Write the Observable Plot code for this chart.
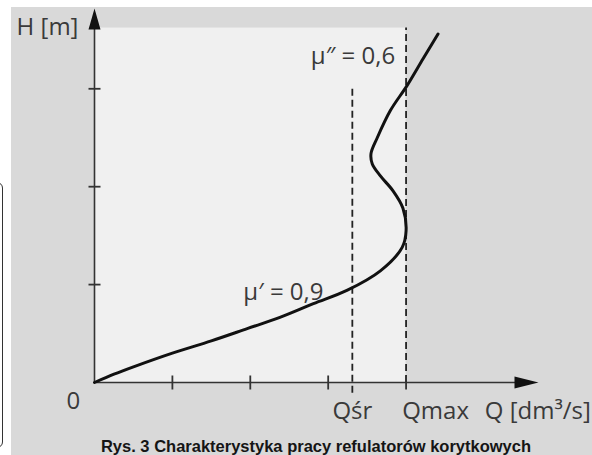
<!DOCTYPE html>
<html>
<head>
<meta charset="utf-8">
<script src="https://cdn.jsdelivr.net/npm/d3@7"></script>
<script src="https://cdn.jsdelivr.net/npm/@observablehq/plot@0.6"></script>
<style>
  html, body { margin: 0; padding: 0; background: #fff; }
  #page { position: relative; width: 592px; height: 455px; overflow: hidden; background: #fff; }
  #bg { position: absolute; left: 11px; top: 7px; width: 581px; height: 448px; background: #d9d9d9; }
  #box { position: absolute; left: -20px; top: 182px; width: 21px; height: 264px; border: 1.5px solid #333; border-radius: 6px; }
  #chart { position: absolute; left: 0; top: 0; }
  #caption { position: absolute; left: 0; top: 437px; width: 632px; text-align: center; line-height: 20px;
    font: bold 16.5px "Liberation Sans", Arial, sans-serif; color: #151515; }
</style>
</head>
<body>
<div id="page">
  <div id="bg"></div>
  <div id="box"></div>
  <div id="chart"></div>
  <div id="caption">Rys. 3 Charakterystyka pracy refulatorów korytkowych</div>
</div>
<script>
// Characteristic curve Q(H)
const curveQ = [0, 0.25, 0.5, 1.0, 1.5, 1.96, 2.38, 2.81, 3.24, 3.67, 3.95, 4.0, 3.96, 3.83, 3.67, 3.565, 3.55, 3.63, 3.80, 4.01, 4.22, 4.41];
const curveH = [0, 0.085, 0.16, 0.30, 0.425, 0.55, 0.665, 0.805, 0.94, 1.14, 1.38, 1.55, 1.78, 1.96, 2.11, 2.235, 2.34, 2.50, 2.78, 3.03, 3.31, 3.56];

const xTicks = [1, 2, 3, 4];
const yTicks = [1, 2, 3];
const qSr = 3.31;
const qMax = 4.0;
const qSrTop = 3.03;
const panelTop = 3.62;
const xMax = 5.7;
const yMax = 3.82;

const labelText = ["H [m]", "μ″ = 0,6", "μ′ = 0,9", "0", "Qśr", "Qmax", "Q [dm³/s]"];
const labelX = [-1.0, 3.86, 2.94, -0.27, 3.31, 3.95, 5.01];
const labelY = [3.63, 3.33, 0.92, -0.19, -0.29, -0.29, -0.29];
const labelAnchor = ["start", "end", "end", "middle", "middle", "start", "start"];

const curve = curveQ.map((q, i) => ({q, h: curveH[i]}));
const labels = labelText.map((t, i) => ({t, x: labelX[i], y: labelY[i], a: labelAnchor[i]}));

const upArrow = {draw(ctx) { ctx.moveTo(0, 0); ctx.lineTo(-6, 21); ctx.lineTo(6, 21); ctx.closePath(); }};
const rightArrow = {draw(ctx) { ctx.moveTo(0, 0); ctx.lineTo(-24, -6); ctx.lineTo(-24, 6); ctx.closePath(); }};
const hTick = {draw(ctx) { ctx.moveTo(-6, 0); ctx.lineTo(6, 0); }};
const vTick = {draw(ctx) { ctx.moveTo(0, -7); ctx.lineTo(0, 7); }};

const axisColor = "#333";
const textColor = "#3a3a3a";

const textMarks = ["start", "middle", "end"].map(a =>
  Plot.text(labels.filter(d => d.a === a), {x: "x", y: "y", text: "t", textAnchor: a, fill: textColor,
    fontSize: 24, fontFamily: "'Open Sans', sans-serif"}));

const chart = Plot.plot({
  width: 592,
  height: 430,
  marginLeft: 94,
  marginRight: 54,
  marginTop: 8,
  marginBottom: 48,
  style: {background: "transparent", overflow: "visible"},
  x: {domain: [0, xMax], axis: null},
  y: {domain: [0, yMax], axis: null},
  marks: [
    Plot.rect([0], {x1: 0, x2: qMax, y1: 0, y2: panelTop, fill: "#f0f0f0"}),
    Plot.ruleX([qSr], {y1: -0.11, y2: qSrTop, stroke: "#222", strokeWidth: 1.8, strokeDasharray: "7,4"}),
    Plot.ruleX([qMax], {y1: 0, y2: panelTop, stroke: "#222", strokeWidth: 1.8, strokeDasharray: "7,4"}),
    Plot.ruleX([0], {y1: 0, y2: yMax - 0.1, stroke: axisColor, strokeWidth: 1.6}),
    Plot.ruleY([0], {x1: 0, x2: xMax - 0.1, stroke: axisColor, strokeWidth: 1.6}),
    Plot.dot([0], {x: 0, y: yMax, symbol: upArrow, fill: "#111", stroke: "none"}),
    Plot.dot([0], {x: xMax, y: 0, symbol: rightArrow, fill: "#111", stroke: "none"}),
    Plot.dot(yTicks, {x: 0, y: d => d, symbol: hTick, stroke: axisColor, strokeWidth: 1.8}),
    Plot.dot(xTicks, {x: d => d, y: 0, symbol: vTick, stroke: axisColor, strokeWidth: 1.8}),
    Plot.line(curve, {x: "q", y: "h", curve: "catmull-rom", stroke: "#111", strokeWidth: 3}),
    ...textMarks
  ]
});
document.getElementById("chart").appendChild(chart);
</script>
</body>
</html>
